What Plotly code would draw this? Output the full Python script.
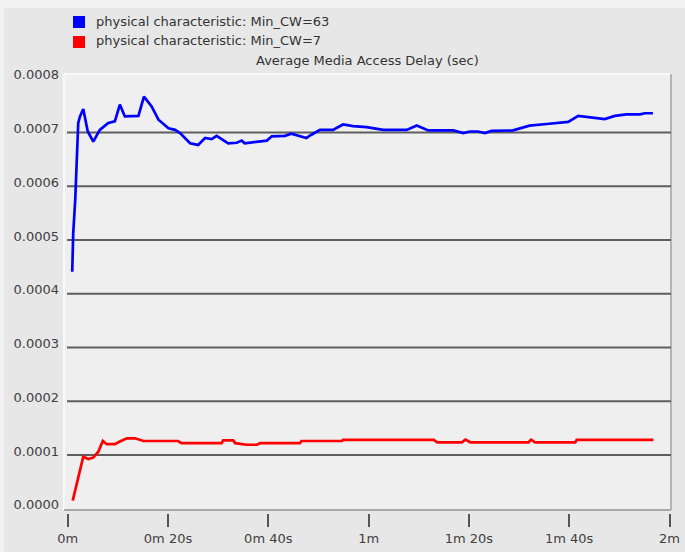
import plotly.graph_objects as go

# Average Media Access Delay (sec) vs simulation time (seconds)
blue_name = "physical characteristic: Min_CW=63"
blue_t = [0.9, 1.1, 1.5, 1.8, 2.1, 2.45, 3.1, 4.0, 5.1, 6.4, 8.1, 9.4, 10.4, 11.4, 14.1, 15.2,
          16.7, 18.1, 20.1, 21.4, 22.4, 24.4, 26.0, 27.4, 28.7, 29.7, 32.0, 33.7, 34.7, 35.3,
          37.7, 39.7, 40.7, 43.3, 44.6, 46.3, 47.6, 48.6, 50.3, 52.9, 54.9, 56.9, 59.6, 62.9,
          67.6, 69.6, 71.9, 76.9, 78.9, 80.2, 81.8, 83.2, 84.5, 88.8, 92.1, 95.5, 99.8, 101.8,
          103.8, 107.1, 109.1, 111.4, 114.1, 115.1, 116.7]
blue_v = [0.000441, 0.000513, 0.000575, 0.00065, 0.000718, 0.00073, 0.000744, 0.000702,
          0.000683, 0.000705, 0.000718, 0.000721, 0.000752, 0.00073, 0.000731, 0.000767,
          0.000749, 0.000724, 0.000708, 0.000705, 0.000699, 0.00068, 0.000677, 0.00069,
          0.000688, 0.000694, 0.00068, 0.000681, 0.000685, 0.00068, 0.000683, 0.000685,
          0.000693, 0.000694, 0.000698, 0.000693, 0.00069, 0.000696, 0.000705, 0.000705,
          0.000715, 0.000712, 0.00071, 0.000705, 0.000705, 0.000713, 0.000704, 0.000704,
          0.000699, 0.000702, 0.000702, 0.000699, 0.000703, 0.000704, 0.000713, 0.000716,
          0.00072, 0.000731, 0.000729, 0.000725, 0.000731, 0.000734, 0.000734, 0.000736,
          0.000736]

red_name = "physical characteristic: Min_CW=7"
red_t = [1.0, 3.1, 4.1, 5.1, 6.1, 7.0, 7.8, 9.4, 10.4, 11.8, 13.4, 15.1, 22.0, 22.7, 30.7,
         31.0, 33.0, 33.4, 35.7, 37.7, 38.4, 46.3, 46.6, 54.7, 54.9, 73.0, 73.7, 78.6, 79.3,
         80.3, 91.9, 92.4, 93.2, 101.2, 101.5, 116.8]
red_v = [0.000015, 0.0000968, 0.0000925, 0.000095, 0.000106, 0.000126, 0.00012, 0.00012,
         0.000125, 0.000131, 0.000131, 0.000126, 0.000126, 0.000122, 0.000122, 0.000127,
         0.000127, 0.000122, 0.000119, 0.000119, 0.000122, 0.000122, 0.000126, 0.000126,
         0.000128, 0.000128, 0.0001236, 0.0001236, 0.0001285, 0.0001236, 0.0001236,
         0.0001285, 0.0001236, 0.0001236, 0.000128, 0.000128]

x_tickvals = [0, 20, 40, 60, 80, 100, 120]
x_ticktext = ["0m", "0m 20s", "0m 40s", "1m", "1m 20s", "1m 40s", "2m"]
y_tickvals = [0, 0.0001, 0.0002, 0.0003, 0.0004, 0.0005, 0.0006, 0.0007, 0.0008]
y_ticktext = ["0.0000", "0.0001", "0.0002", "0.0003", "0.0004", "0.0005", "0.0006", "0.0007", "0.0008"]
grid_vals = [0.0001, 0.0002, 0.0003, 0.0004, 0.0005, 0.0006, 0.0007]

# figure geometry (pixels)
W, H = 685, 552
L, R, T, B = 64, 14, 74, 39
PW, PH = W - L - R, H - T - B


def px(x):
    return (x - L) / PW


def py(y):
    return (H - B - y) / PH


FONT = "DejaVu Sans"

fig = go.Figure()
fig.add_trace(go.Scatter(x=blue_t, y=blue_v, mode="lines", name=blue_name,
                         line=dict(color="#0000ff", width=2.7), showlegend=False))
fig.add_trace(go.Scatter(x=red_t, y=red_v, mode="lines", name=red_name,
                         line=dict(color="#ff0000", width=2.7), showlegend=False))

shapes = []
# light frame at top / left of the window
shapes.append(dict(type="rect", xref="paper", yref="paper", x0=px(0), x1=px(W), y0=py(8), y1=py(0),
                   fillcolor="#f1f1f1", line=dict(width=0), layer="below"))
shapes.append(dict(type="rect", xref="paper", yref="paper", x0=px(0), x1=px(4), y0=py(H), y1=py(0),
                   fillcolor="#f1f1f1", line=dict(width=0), layer="below"))
# plot panel
shapes.append(dict(type="rect", xref="paper", yref="paper", x0=0, x1=1, y0=py(510), y1=1,
                   fillcolor="#efefef", line=dict(width=0), layer="below"))
shapes.append(dict(type="line", xref="paper", yref="paper", x0=0, x1=1, y0=1, y1=1,
                   line=dict(color="#f9f9f9", width=2), layer="below"))
shapes.append(dict(type="line", xref="paper", yref="paper", x0=0, x1=0, y0=py(510), y1=1,
                   line=dict(color="#f9f9f9", width=2), layer="below"))
shapes.append(dict(type="line", xref="paper", yref="paper", x0=1, x1=1, y0=py(510), y1=1,
                   line=dict(color="#b4b4b4", width=2), layer="below"))
shapes.append(dict(type="line", xref="paper", yref="paper", x0=0, x1=1, y0=py(510), y1=py(510),
                   line=dict(color="#a9a9a9", width=2), layer="below"))
for g in grid_vals:
    shapes.append(dict(type="line", xref="paper", yref="y", x0=px(67), x1=1, y0=g, y1=g,
                       line=dict(color="#5e5e5e", width=2), layer="below"))
# legend squares
shapes.append(dict(type="rect", xref="paper", yref="paper", x0=px(73), x1=px(85), y0=py(28), y1=py(16),
                   fillcolor="#0000ff", line=dict(width=0)))
shapes.append(dict(type="rect", xref="paper", yref="paper", x0=px(73), x1=px(85), y0=py(48), y1=py(36),
                   fillcolor="#ff0000", line=dict(width=0)))

annotations = [
    dict(text=blue_name, x=px(94), y=py(21), xref="paper", yref="paper", xanchor="left",
         yanchor="middle", showarrow=False, font=dict(family=FONT, size=13, color="#333333")),
    dict(text=red_name, x=px(94), y=py(41), xref="paper", yref="paper", xanchor="left",
         yanchor="middle", showarrow=False, font=dict(family=FONT, size=13, color="#333333")),
    dict(text="Average Media Access Delay (sec)", x=px(367), y=py(61), xref="paper", yref="paper",
         xanchor="center", yanchor="middle", showarrow=False,
         font=dict(family=FONT, size=13, color="#333333")),
]

fig.update_layout(
    width=W, height=H,
    margin=dict(l=L, r=R, t=T, b=B, pad=0, autoexpand=False),
    paper_bgcolor="#e7e7e7",
    plot_bgcolor="#e7e7e7",
    shapes=shapes,
    annotations=annotations,
    font=dict(family=FONT, size=13, color="#404040"),
    xaxis=dict(
        range=[-0.74, 120.3], tickvals=x_tickvals, ticktext=x_ticktext,
        showgrid=False, zeroline=False, showline=False, automargin=False,
        ticks="outside", ticklen=13, tickwidth=2, tickcolor="#555555",
        tickfont=dict(family=FONT, size=13, color="#404040"),
    ),
    yaxis=dict(
        range=[-0.0000080, 0.000809], tickvals=y_tickvals, ticktext=y_ticktext,
        showgrid=False, zeroline=False, showline=False, ticks="", automargin=False,
        ticklabelstandoff=4, ticklabelshift=-4,
        tickfont=dict(family=FONT, size=13, color="#404040"),
    ),
)

# page body has a default 8px margin; remove it so the figure fills the window
fig.write_html("out.html", config={"displayModeBar": False},
               post_script="document.body.style.margin='0';")
